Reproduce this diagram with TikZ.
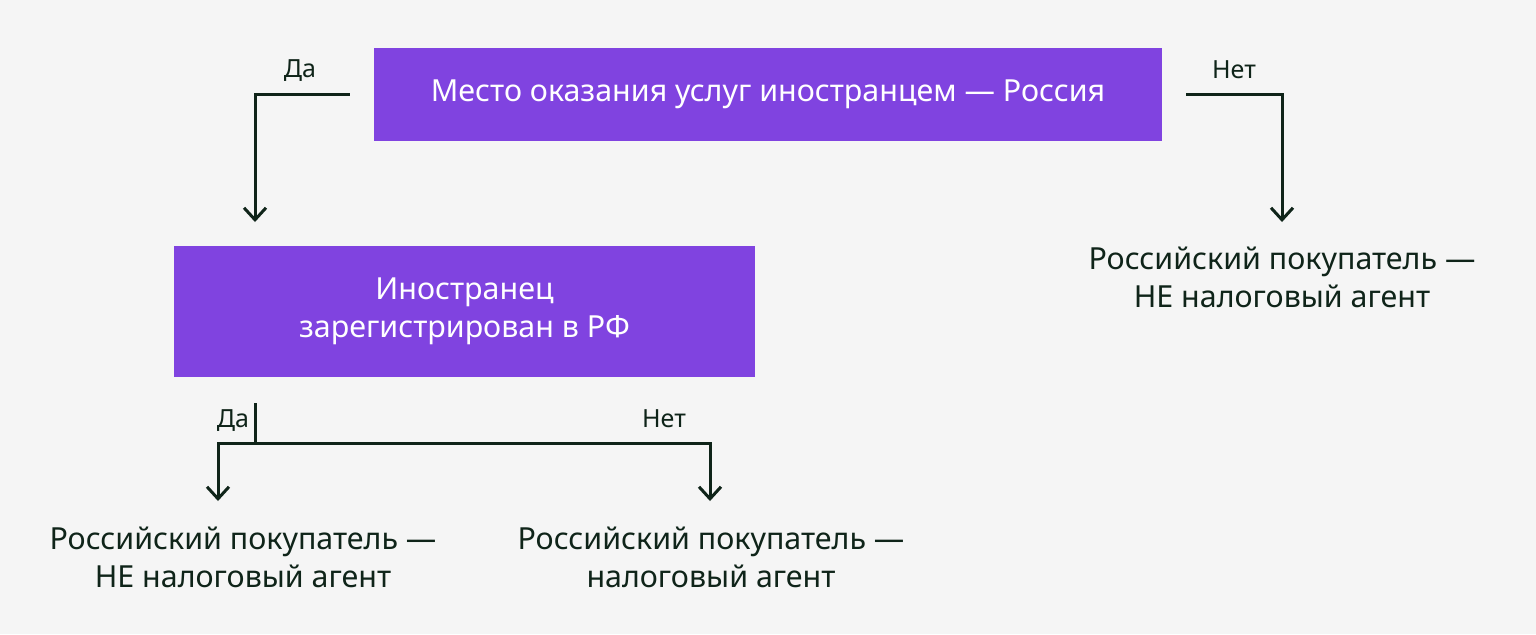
\documentclass[tikz,border=0pt]{standalone}
\usepackage{fontspec}
\setmainfont{Noto Sans}
\usetikzlibrary{arrows.meta}
\definecolor{boxpurple}{HTML}{8043E0}
\definecolor{ink}{HTML}{0F2419}
\definecolor{paper}{HTML}{F5F5F5}
\begin{document}
\begin{tikzpicture}[x=0.5pt,y=-0.5pt,
    box/.style={fill=boxpurple,text=white,align=center,inner sep=0pt,
      font=\fontsize{15.2}{19}\selectfont},
    result/.style={text=ink,align=center,inner sep=0pt,
      font=\fontsize{15.2}{19}\selectfont},
    lbl/.style={text=ink,inner sep=0pt,font=\fontsize{12.5}{14}\selectfont},
    wire/.style={draw=ink,line width=1.5pt},
    arr/.style={wire,-{Straight Barb[length=6pt,width=11pt]}}]
	    \fill[paper] (0,0) rectangle (1536,634);
	    \useasboundingbox (0,0) rectangle (1536,634);
	    % boxes
	    \node[box,minimum width=394pt,minimum height=46.5pt] (place) at (768,94.5)
	        {Место оказания услуг иностранцем — Россия};
	    \node[box,minimum width=290.5pt,minimum height=65.5pt] (reg) at (464.5,311.5)
	        {Иностранец\\зарегистрирован в РФ};
	    % outcomes
	    \node[result] (buyerA) at (1282,277) {Российский покупатель —\\НЕ налоговый агент};
	    \node[result] (buyerB) at (243,557) {Российский покупатель —\\НЕ налоговый агент};
	    \node[result] (buyerC) at (711,557) {Российский покупатель —\\налоговый агент};
	    % labels
	    \node[lbl] (yesA) at (300,71) {Да};
	    \node[lbl] (noA) at (1234,70) {Нет};
	    \node[lbl] (yesB) at (233,421) {Да};
	    \node[lbl] (noB) at (664,419) {Нет};
	    % ends of the arrows
	    \coordinate (tipA) at (255,222);
	    \coordinate (tipB) at (1282,222);
	    \coordinate (stem) at (255,403);
	    \coordinate (split) at (255,443);
	    \coordinate (tipC) at (218,501);
	    \coordinate (tipD) at (710,501);
	    \draw[arr] ([xshift=-12pt]place.west) -| (tipA);
	    \draw[arr] ([xshift=12pt]place.east) -| (tipB);
	    \draw[wire] (stem) -- (split);
	    \draw[arr] (split) -| (tipC);
	    \draw[arr] (split) -| (tipD);
\end{tikzpicture}
\end{document}
